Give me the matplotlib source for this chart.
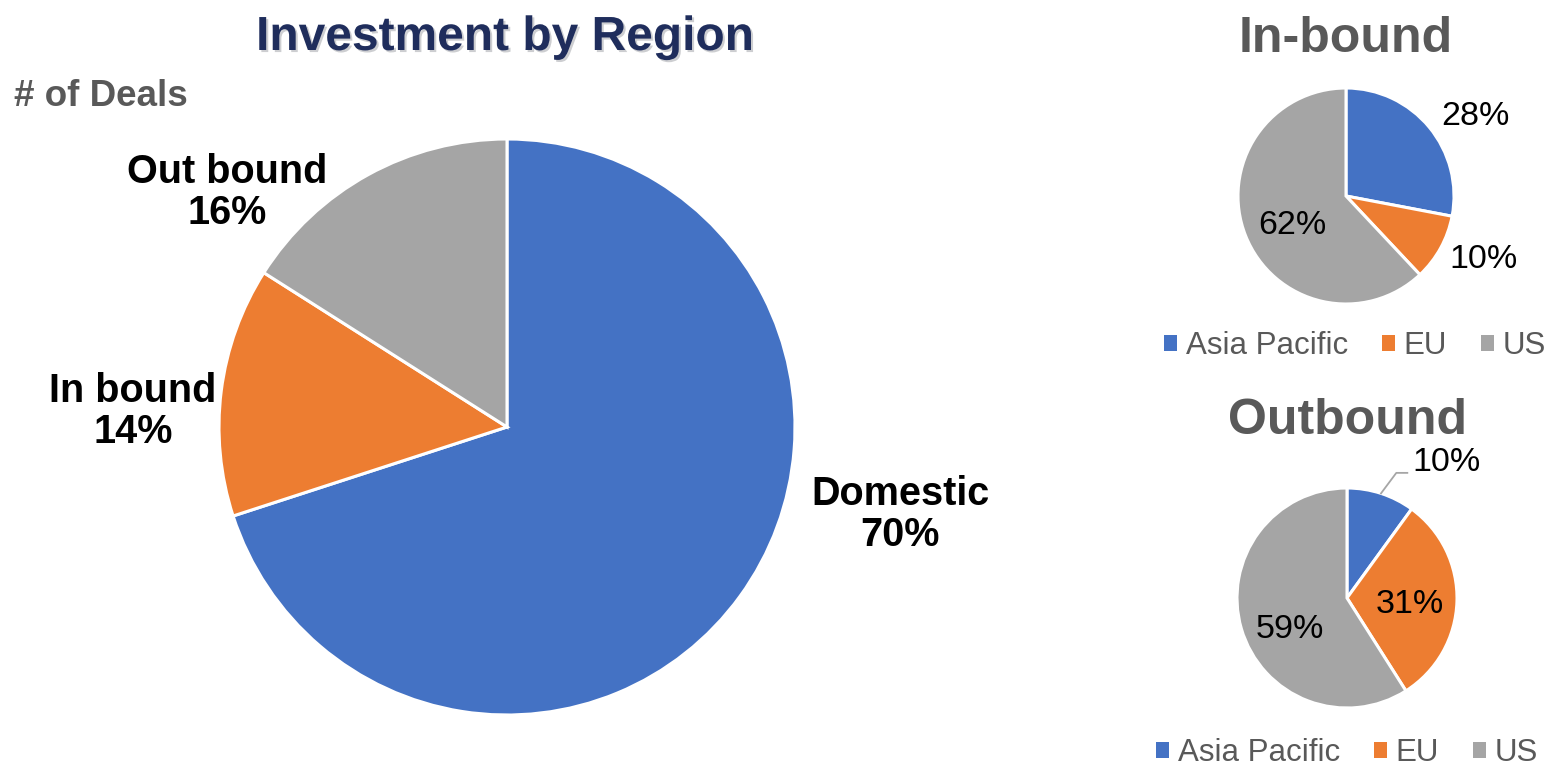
import numpy as np
import matplotlib.pyplot as plt
from matplotlib.patches import Patch
import matplotlib.patheffects as pe

plt.rcParams['font.family'] = ['Liberation Sans', 'DejaVu Sans']

# main pie
regions = ["Domestic", "In bound", "Out bound"]
region_share = [70, 14, 16]

# small pies
sub_cats = ["Asia Pacific", "EU", "US"]
inbound_share = [28, 10, 62]
outbound_share = [10, 31, 59]

colors = ["#4472C4", "#ED7D31", "#A5A5A5"]

W, H = 1550, 767
fig = plt.figure(figsize=(W / 100, H / 100), dpi=100)


def pie_axes(cx, cy, r):
    ax = fig.add_axes([(cx - r) / W, (H - cy - r) / H, 2 * r / W, 2 * r / H])
    ax.set_xlim(-1, 1)
    ax.set_ylim(-1, 1)
    ax.axis("off")
    return ax


def polar(d, a):
    return d * np.cos(np.radians(a)), d * np.sin(np.radians(a))


# ---- main pie ----
ax = pie_axes(507, 427, 288)
ax.pie(region_share, colors=colors, startangle=90, counterclock=False, radius=1,
       wedgeprops=dict(edgecolor="white", linewidth=2.2))
ax.set_xlim(-1, 1)
ax.set_ylim(-1, 1)
main_lbl = [(1.398, -12.5), (1.30, 177.7), (1.267, 140.1)]
for name, v, (d, a) in zip(regions, region_share, main_lbl):
    x, y = polar(d, a)
    ax.text(x, y, "{}\n{}%".format(name, v), ha="center", va="center",
            fontsize=28.5, fontweight="bold", color="black", linespacing=1.1)

fig.text(505 / W, 1 - 50 / H, "Investment by Region", ha="center", va="baseline",
         fontsize=34.5, fontweight="bold", color="#1F2D5C",
         path_effects=[pe.SimplePatchShadow(offset=(1.5, -1.5), alpha=0.2), pe.Normal()])
fig.text(14 / W, 1 - 106 / H, "# of Deals", ha="left", va="baseline",
         fontsize=26.5, fontweight="bold", color="#595959")


def small_pie(cx, cy, r, vals, lbl_pos, title, title_y, leg_x, leg_y, leader=None):
    ax = pie_axes(cx, cy, r)
    ax.pie(vals, colors=colors, startangle=90, counterclock=False, radius=1,
           wedgeprops=dict(edgecolor="white", linewidth=2.2))
    ax.set_xlim(-1, 1)
    ax.set_ylim(-1, 1)
    for v, (d, a) in zip(vals, lbl_pos):
        x, y = polar(d, a)
        ax.text(x, y, "{}%".format(v), ha="center", va="center", fontsize=24.5, color="black")
    if leader is not None:
        i = leader
        start = 90 - sum(vals[:i]) * 3.6
        mid = start - vals[i] * 1.8
        sx, sy = polar(1.0, mid)
        lx, ly = polar(*lbl_pos[i])
        ax.plot([sx, lx - 0.46, lx - 0.36], [sy, ly - 0.09, ly - 0.09],
                color="#A6A6A6", lw=1.3, clip_on=False)
    fig.text(cx / W, 1 - title_y / H, title, ha="center", va="baseline",
             fontsize=36, fontweight="bold", color="#595959")
    handles = [Patch(facecolor=c, edgecolor="none") for c in colors]
    fig.legend(handles, sub_cats, loc="center", bbox_to_anchor=(leg_x / W, 1 - leg_y / H),
               ncol=3, frameon=False, fontsize=22.5, labelcolor="#595959",
               handlelength=0.4, handleheight=0.4, handletextpad=0.28,
               columnspacing=1.1, borderpad=0, borderaxespad=0)


small_pie(1346, 196, 108, inbound_share,
          [(1.405, 31.8), (1.40, -25.0), (0.572, -151.0)],
          "In-bound", 52, 1355, 346)
small_pie(1347, 598, 110, outbound_share,
          [(1.527, 53.5), (0.575, -5.5), (0.594, -150.7)],
          "Outbound", 434, 1347, 753, leader=0)

fig.savefig("out.png", dpi=100)
